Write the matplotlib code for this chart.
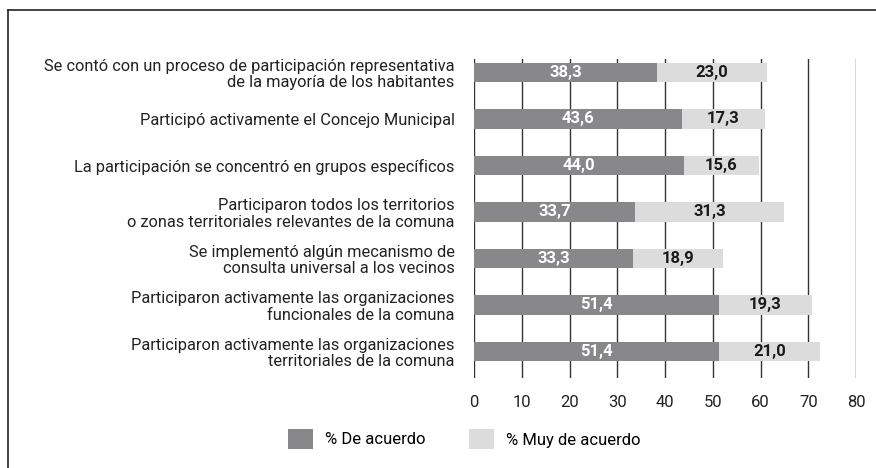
import matplotlib
matplotlib.use("Agg")
import matplotlib.pyplot as plt
from matplotlib.patches import Patch
from matplotlib.lines import Line2D
import numpy as np

plt.rcParams["font.family"] = ["Roboto", "DejaVu Sans"]

CATEGORIES = [
    "Se contó con un proceso de participación representativa\nde la mayoría de los habitantes",
    "Participó activamente el Concejo Municipal",
    "La participación se concentró en grupos específicos",
    "Participaron todos los territorios\no zonas territoriales relevantes de la comuna",
    "Se implementó algún mecanismo de\nconsulta universal a los vecinos",
    "Participaron activamente las organizaciones\nfuncionales de la comuna",
    "Participaron activamente las organizaciones\nterritoriales de la comuna",
]
DE_ACUERDO = [38.3, 43.6, 44.0, 33.7, 33.3, 51.4, 51.4]
MUY_DE_ACUERDO = [23.0, 17.3, 15.6, 31.3, 18.9, 19.3, 21.0]
X_TICKS = [0, 10, 20, 30, 40, 50, 60, 70, 80]

DARK = "#88888b"
LIGHT = "#dcdcdd"


def fmt(v):
    return f"{v:.1f}".replace(".", ",")


fig = plt.figure(figsize=(8.76, 4.68), dpi=100)
ax = fig.add_axes([474 / 876, 1 - 378 / 468, (856 - 474) / 876, (378 - 59) / 468])

y = np.arange(len(CATEGORIES))
de = np.array(DE_ACUERDO)
muy = np.array(MUY_DE_ACUERDO)

ax.barh(y, de, height=0.41, color=DARK, zorder=3)
ax.barh(y, muy, left=de, height=0.41, color=LIGHT, zorder=3)

for yi, a, b in zip(y, de, muy):
    ax.text(a / 2, yi, fmt(a), ha="center", va="center", color="white",
            fontsize=12, fontweight="bold", zorder=4)
    ax.text(a + b / 2, yi, fmt(b), ha="center", va="center", color="#1a1a1a",
            fontsize=12, fontweight="bold", zorder=4)

ax.set_xlim(0, 80)
ax.set_ylim(len(CATEGORIES) - 1 + 0.57, -0.29)
ax.set_xticks(X_TICKS)
ax.set_xticklabels([str(t) for t in X_TICKS], fontsize=12, color="#222222")
ax.set_yticks(y)
ax.set_yticklabels(CATEGORIES, fontsize=11.8, color="#222222", linespacing=1.1)
ax.tick_params(axis="both", length=0)
ax.tick_params(axis="x", pad=12)
ax.tick_params(axis="y", pad=14)
ax.grid(axis="x", color="#333333", linewidth=1.0, zorder=0)
for s in ax.spines.values():
    s.set_visible(False)

handles = [Patch(facecolor=DARK, edgecolor="none", label="% De acuerdo"),
           Patch(facecolor=LIGHT, edgecolor="none", label="% Muy de acuerdo")]
fig.legend(handles=handles, loc="center", bbox_to_anchor=(0.53, 1 - 439 / 468),
           ncol=2, frameon=False, fontsize=12, handlelength=1.5, handleheight=1.5,
           columnspacing=2.6, handletextpad=0.7)

# frame lines (left and top only)
fig.add_artist(Line2D([8 / 876, 8 / 876], [0, 1 - 10 / 468], color="#222222", linewidth=1.2))
fig.add_artist(Line2D([8 / 876, 1], [1 - 10 / 468, 1 - 10 / 468], color="#222222", linewidth=1.2))

fig.savefig("out.png", dpi=100)
